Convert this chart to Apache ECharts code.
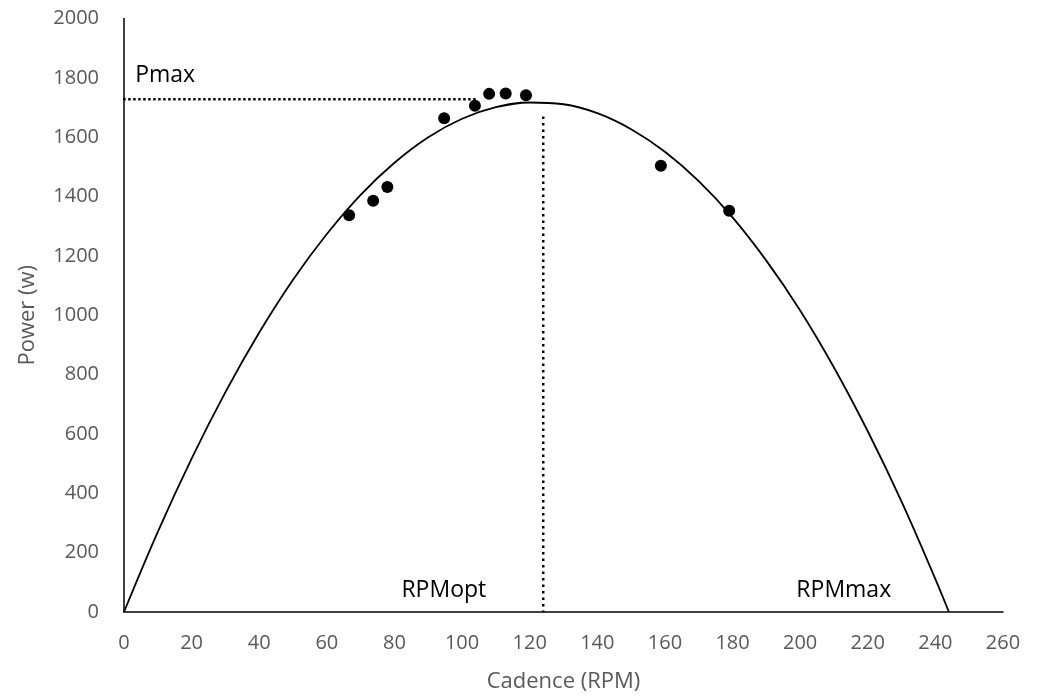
<!DOCTYPE html>
<html>
<head>
<meta charset="utf-8">
<script src="https://cdn.jsdelivr.net/npm/echarts@6/dist/echarts.min.js"></script>
<style>
html,body{margin:0;padding:0;background:#fff;}
#chart{width:1043px;height:698px;}
</style>
</head>
<body>
<div id="chart"></div>
<script>
// Observed data points (Cadence RPM, Power W)
var cadence = [66.6, 73.7, 77.9, 94.7, 103.8, 108.0, 112.9, 118.9, 158.8, 179.0];
var power   = [1337, 1386, 1432, 1664, 1706, 1746, 1747, 1741, 1504, 1352];

// Trendline values
var trendX = [0, 10, 20, 30, 40, 50, 60, 70, 80, 90, 100, 110, 120, 130, 140, 150, 160, 170, 180, 190, 200, 210, 220, 230, 240, 244];
var trendY = [0, 270, 517, 741, 942, 1120, 1274, 1406, 1514, 1600, 1662, 1701, 1717, 1711, 1681, 1627, 1551, 1452, 1330, 1184, 1016, 824, 609, 372, 111, 0];

// Reference lines
var pmaxLineX = [-3.2, 104.4];
var pmaxLineY = [1728, 1728];
var rpmOptLineX = [124, 124];
var rpmOptLineY = [1670, 0];

// Annotations
var annoNames = ['Pmax', 'RPMopt', 'RPMmax'];
var annoX = [3.3, 94.6, 212.9];
var annoY = [1807, 73, 73];
var annoAlign = ['left', 'center', 'center'];

var xTicks = {min: 0, max: 260, interval: 20};
var yTicks = {min: 0, max: 2000, interval: 200};

var FONT = "'Open Sans', 'Noto Sans', sans-serif";

function zip(a, b) { return a.map(function (v, i) { return [v, b[i]]; }); }

var chart = echarts.init(document.getElementById('chart'), null, {renderer: 'canvas'});
chart.setOption({
  animation: false,
  backgroundColor: '#ffffff',
  textStyle: {fontFamily: FONT},
  grid: {left: 124, right: 40, top: 18.5, bottom: 85.3, containLabel: false},
  xAxis: {
    type: 'value', min: xTicks.min, max: xTicks.max, interval: xTicks.interval,
    name: 'Cadence (RPM)', nameLocation: 'middle', nameGap: 59,
    nameTextStyle: {color: '#595959', fontSize: 22, fontFamily: FONT},
    axisLine: {show: true, onZero: false, lineStyle: {color: '#000', width: 1.5}},
    axisTick: {show: false},
    splitLine: {show: false},
    axisLabel: {color: '#595959', fontSize: 20, margin: 21, fontFamily: FONT,
                formatter: function (v) { return String(v); }}
  },
  yAxis: {
    type: 'value', min: yTicks.min, max: yTicks.max, interval: yTicks.interval,
    name: 'Power (w)', nameLocation: 'middle', nameGap: 85,
    nameTextStyle: {color: '#595959', fontSize: 22, fontFamily: FONT},
    axisLine: {show: true, onZero: false, lineStyle: {color: '#000', width: 1.5}},
    axisTick: {show: false},
    splitLine: {show: false},
    axisLabel: {color: '#595959', fontSize: 20, margin: 25, fontFamily: FONT,
                formatter: function (v) { return String(v); }}
  },
  series: [
    {
      type: 'line', data: zip(trendX, trendY), smooth: 0.4, showSymbol: false, symbol: 'none',
      lineStyle: {color: '#000', width: 1.8}, z: 2
    },
    {
      type: 'line', data: zip(pmaxLineX, pmaxLineY), showSymbol: false, symbol: 'none', clip: false,
      lineStyle: {color: '#000', width: 2.5, type: [2.5, 2.5], cap: 'butt'}, z: 3
    },
    {
      type: 'line', data: zip(rpmOptLineX, rpmOptLineY), showSymbol: false, symbol: 'none', clip: false,
      lineStyle: {color: '#000', width: 2.5, type: [2.5, 4], cap: 'butt'}, z: 3
    },
    {
      type: 'scatter', data: zip(cadence, power), symbol: 'circle', symbolSize: 12,
      itemStyle: {color: '#000', opacity: 1}, z: 5
    },
    {
      type: 'scatter', symbolSize: 0, silent: true, z: 6,
      itemStyle: {opacity: 1},
      data: annoNames.map(function (n, i) {
        return {
          value: [annoX[i], annoY[i]], name: n,
          label: {show: true, position: 'inside', formatter: n, align: annoAlign[i], verticalAlign: 'middle',
                  color: '#000', opacity: 1, fontSize: 23, fontFamily: FONT}
        };
      })
    }
  ]
});
</script>
</body>
</html>
